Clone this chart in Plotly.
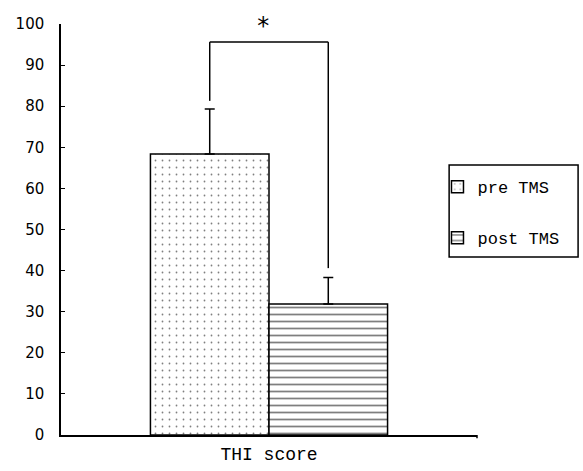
import plotly.graph_objects as go

# ---- data ----
category = ["THI score"]
series_names = ["pre TMS", "post TMS"]
means = [68.4, 31.9]
sd_plus = [10.9, 6.4]
patterns = [".", "-"]
y_ticks = [0, 10, 20, 30, 40, 50, 60, 70, 80, 90, 100]
bracket_top = 95.6
bracket_ends = [81.3, 40.6]
sig_label = "*"

bargap = 0.43
bar_w = (1 - bargap) / 2
centers = [-bar_w / 2, bar_w / 2]

fig = go.Figure()
for i, name in enumerate(series_names):
    fig.add_trace(go.Bar(
        x=category, y=[means[i]], name=name, legendgroup=name,
        marker=dict(color="white", line=dict(color="black", width=1.5),
                    pattern=dict(shape=patterns[i], fgcolor="black", bgcolor="white",
                                 size=7, solidity=0.05 if i == 0 else 0.25)),
        error_y=dict(type="data", symmetric=False, array=[sd_plus[i]], arrayminus=[0],
                     color="black", thickness=1.5, width=5),
    ))

line_style = dict(color="black", width=1.5)
# significance bracket
fig.add_shape(type="line", xref="x", yref="y", x0=centers[0], x1=centers[0],
              y0=bracket_ends[0], y1=bracket_top, line=line_style)
fig.add_shape(type="line", xref="x", yref="y", x0=centers[0], x1=centers[1],
              y0=bracket_top, y1=bracket_top, line=line_style)
fig.add_shape(type="line", xref="x", yref="y", x0=centers[1], x1=centers[1],
              y0=bracket_ends[1], y1=bracket_top, line=line_style)
fig.add_annotation(x=0, y=bracket_top, xref="x", yref="y", text=sig_label,
                   showarrow=False, yanchor="bottom", yshift=0, xshift=-6,
                   font=dict(size=24, color="black", family="DejaVu Sans Mono"))

# legend frame and small end tick on x axis
fig.add_shape(type="rect", xref="paper", yref="paper", x0=0.933, x1=1.243,
              y0=0.433, y1=0.657, line=line_style, fillcolor="rgba(0,0,0,0)")
fig.add_shape(type="line", xref="paper", yref="paper", x0=1, x1=1, y0=0, y1=-0.008,
              line=line_style)

fig.update_layout(
    width=583, height=471,
    margin=dict(l=61, r=106, t=24, b=36),
    plot_bgcolor="white", paper_bgcolor="white",
    barmode="group", bargap=bargap, bargroupgap=0,
    showlegend=True,
    legend=dict(x=0.905, y=0.647, xanchor="left", yanchor="top",
                borderwidth=0, bgcolor="rgba(0,0,0,0)",
                font=dict(family="Liberation Mono", size=17, color="black"),
                itemwidth=30, tracegroupgap=26),
    font=dict(family="DejaVu Sans", color="black"),
)
fig.update_xaxes(type="category", range=[-0.5, 0.5], showline=True, linecolor="black",
                 linewidth=1.5, ticks="", showticklabels=False, showgrid=False,
                 title=dict(text="THI score", standoff=12,
                            font=dict(family="Liberation Mono", size=18, color="black")))
fig.update_yaxes(range=[0, 100], tickvals=y_ticks, showline=True, linecolor="black",
                 linewidth=1.5, ticks="inside", ticklen=4, tickcolor="black",
                 showgrid=False, zeroline=False, ticklabelstandoff=12,
                 tickfont=dict(family="DejaVu Sans", size=15, color="black"))

fig.write_html("out.html")
